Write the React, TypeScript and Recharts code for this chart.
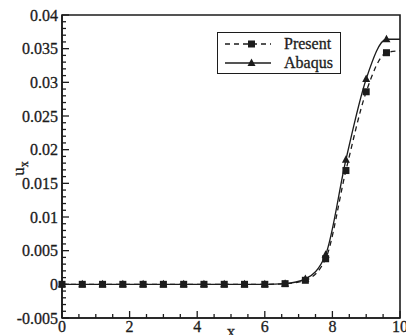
import { LineChart, Line, XAxis, YAxis, ReferenceArea, Label } from "recharts";

const FONT = "'Liberation Serif', 'Times New Roman', serif";
const INK = "#1c1c1c";

// marker positions (both series sampled at the same x)
const markerX = [0, 0.6, 1.2, 1.8, 2.4, 3.0, 3.6, 4.2, 4.8, 5.4, 6.0, 6.6, 7.2, 7.8, 8.4, 9.0, 9.6];
const present = [0, 0, 0, 0, 0, 0, 0, 0, 0, 0, 0, 0.0001, 0.0006, 0.0038, 0.0169, 0.0286, 0.0344];
const abaqus = [0, 0, 0, 0, 0, 0, 0, 0, 0, 0, 0, 0.0001, 0.0008, 0.0044, 0.0185, 0.0305, 0.0364];
// curves run on to the right edge without a marker
const endX = 10;
const presentEnd = 0.0347;
const abaqusEnd = 0.0364;

const xTicks = [0, 0.5, 1, 1.5, 2, 2.5, 3, 3.5, 4, 4.5, 5, 5.5, 6, 6.5, 7, 7.5, 8, 8.5, 9, 9.5, 10];
const xLabels = ["0", "2", "4", "6", "8", "10"];
const yTicks = [
  -0.005, -0.004, -0.003, -0.002, -0.001, 0, 0.001, 0.002, 0.003, 0.004, 0.005, 0.006, 0.007, 0.008,
  0.009, 0.01, 0.011, 0.012, 0.013, 0.014, 0.015, 0.016, 0.017, 0.018, 0.019, 0.02, 0.021, 0.022,
  0.023, 0.024, 0.025, 0.026, 0.027, 0.028, 0.029, 0.03, 0.031, 0.032, 0.033, 0.034, 0.035, 0.036,
  0.037, 0.038, 0.039, 0.04,
];
const yLabels = ["-0.005", "0", "0.005", "0.01", "0.015", "0.02", "0.025", "0.03", "0.035", "0.04"];

const rows = [
  ...markerX.map((x, i) => ({ x, present: present[i], abaqus: abaqus[i], mark: true })),
  { x: endX, present: presentEnd, abaqus: abaqusEnd, mark: false },
];

const findLabel = (labels: string[], v: number) =>
  labels.find((l) => Math.abs(Number(l) - v) < 1e-9);

// text looks slightly heavy in the scan
const textStyle = { fontFamily: FONT, fill: INK, stroke: INK, strokeWidth: 0.3 };

function XTick({ x, y, payload }: any) {
  const label = findLabel(xLabels, payload.value);
  return (
    <g>
      <line x1={x} x2={x} y1={y} y2={y - (label ? 7 : 4)} stroke={INK} strokeWidth={1.3} />
      {label && (
        <text x={x} y={y + 14} textAnchor="middle" fontSize={16} {...textStyle}>
          {label}
        </text>
      )}
    </g>
  );
}

function YTick({ x, y, payload }: any) {
  const label = findLabel(yLabels, payload.value);
  return (
    <g>
      <line x1={x} x2={x + (label ? 7 : 4)} y1={y} y2={y} stroke={INK} strokeWidth={1.3} />
      {label && (
        <text x={x - 4} y={y} dy="0.35em" textAnchor="end" fontSize={16} {...textStyle}>
          {label}
        </text>
      )}
    </g>
  );
}

function SquareDot({ cx, cy, payload, index }: any) {
  if (!payload?.mark || cx == null) return <g key={index} />;
  return <rect key={index} x={cx - 3.5} y={cy - 3.5} width={7} height={7} fill={INK} />;
}

function TriangleDot({ cx, cy, payload, index }: any) {
  if (!payload?.mark || cx == null) return <g key={index} />;
  return (
    <polygon
      key={index}
      points={`${cx},${cy - 4.5} ${cx - 4},${cy + 3} ${cx + 4},${cy + 3}`}
      fill={INK}
    />
  );
}

function YTitle({ viewBox }: any) {
  const cx = viewBox.x + 22;
  const cy = viewBox.y + viewBox.height / 2 + 2;
  return (
    <text
      x={cx}
      y={cy}
      transform={`rotate(-90 ${cx} ${cy})`}
      textAnchor="middle"
      fontSize={17}
      {...textStyle}
    >
      u
      <tspan fontSize={12} dy={4}>
        x
      </tspan>
    </text>
  );
}

function XTitle({ viewBox }: any) {
  return (
    <text
      x={viewBox.x + viewBox.width / 2}
      y={viewBox.y + viewBox.height + 2}
      textAnchor="middle"
      fontSize={17}
      {...textStyle}
    >
      x
    </text>
  );
}

function LegendBox() {
  const item = (dashed: boolean, label: string) => (
    <div style={{ display: "flex", alignItems: "center", height: 19 }}>
      <svg width={58} height={12}>
        <line
          x1={7}
          x2={53}
          y1={6}
          y2={6}
          stroke={INK}
          strokeWidth={1.3}
          strokeDasharray={dashed ? "5 4" : undefined}
        />
        {dashed ? (
          <rect x={30} y={2.5} width={7} height={7} fill={INK} />
        ) : (
          <polygon points="33.5,1.5 29.5,9 37.5,9" fill={INK} />
        )}
      </svg>
      <span style={{ marginLeft: 8, WebkitTextStroke: `0.3px ${INK}` }}>{label}</span>
    </div>
  );
  return (
    <div
      style={{
        position: "absolute",
        left: 217,
        top: 32,
        width: 122,
        height: 39,
        border: `1.6px solid ${INK}`,
        fontFamily: FONT,
        fontSize: 16,
        color: INK,
        paddingTop: 1,
        boxSizing: "content-box",
        lineHeight: "19px",
      }}
    >
      {item(true, "Present")}
      {item(false, "Abaqus")}
    </div>
  );
}

export default function App() {
  return (
    <div style={{ position: "absolute", left: 0, top: 0, width: 406, height: 335, background: "#fff" }}>
      <LineChart
        width={406}
        height={335}
        data={rows}
        margin={{ top: 15, right: 6, bottom: 0, left: 2 }}
      >
        <XAxis
          dataKey="x"
          type="number"
          domain={[0, 10]}
          ticks={xTicks}
          interval={0}
          tickSize={0}
          tickMargin={0}
          tickLine={false}
          tick={<XTick />}
          height={17}
          axisLine={{ stroke: INK, strokeWidth: 1.6 }}
          label={<Label content={<XTitle />} />}
        />
        <YAxis
          type="number"
          domain={[-0.005, 0.04]}
          ticks={yTicks}
          interval={0}
          tickSize={0}
          tickMargin={0}
          tickLine={false}
          tick={<YTick />}
          width={60}
          axisLine={{ stroke: INK, strokeWidth: 1.6 }}
          label={<Label content={<YTitle />} />}
        />
        <ReferenceArea
          x1={0}
          x2={10}
          y1={-0.005}
          y2={0.04}
          fill="none"
          stroke={INK}
          strokeWidth={1.6}
          ifOverflow="visible"
        />
        <Line
          type="monotone"
          dataKey="abaqus"
          stroke={INK}
          strokeWidth={1.3}
          dot={<TriangleDot />}
          activeDot={false}
          isAnimationActive={false}
        />
        <Line
          type="monotone"
          dataKey="present"
          stroke={INK}
          strokeWidth={1.3}
          strokeDasharray="5 4"
          dot={<SquareDot />}
          activeDot={false}
          isAnimationActive={false}
        />
      </LineChart>
      <LegendBox />
    </div>
  );
}
